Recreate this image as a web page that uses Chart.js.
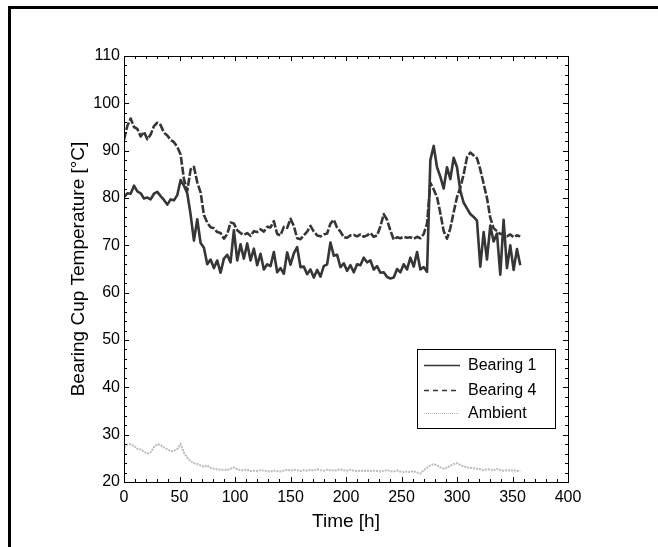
<!DOCTYPE html>
<html>
<head>
<meta charset="utf-8">
<title>Bearing cup temperature</title>
<script src="https://cdn.jsdelivr.net/npm/chart.js@4.4.1/dist/chart.umd.min.js"></script>
<style>
  html, body { margin: 0; padding: 0; background: #fff; }
</style>
</head>
<body>
<canvas id="tempChart" width="658" height="547"></canvas>
<script>
// logged hours since start (3 h sampling)
const hours = [
  0, 3, 6, 9, 12, 15, 18, 21, 24, 27, 30, 33, 36, 39, 42, 45, 48, 51, 54, 57,
  60, 63, 66, 69, 72, 75, 78, 81, 84, 87, 90, 93, 96, 99, 102, 105, 108, 111, 114, 117,
  120, 123, 126, 129, 132, 135, 138, 141, 144, 147, 150, 153, 156, 159, 162, 165, 168, 171, 174, 177,
  180, 183, 186, 189, 192, 195, 198, 201, 204, 207, 210, 213, 216, 219, 222, 225, 228, 231, 234, 237,
  240, 243, 246, 249, 252, 255, 258, 261, 264, 267, 270, 273, 276, 279, 282, 285, 288, 291, 294, 297,
  300, 303, 306, 309, 312, 315, 318, 321, 324, 327, 330, 333, 336, 339, 342, 345, 348, 351, 354, 357
];

const bearing1 = [
  80.2, 81.0, 80.9, 82.6, 81.4, 81.0, 79.9, 80.1, 79.7, 80.9, 81.3, 80.4, 79.6, 78.6, 79.7, 79.5, 80.6, 83.8, 82.6, 81.0,
  76.5, 71.0, 75.5, 70.5, 69.5, 66.0, 67.0, 65.2, 66.8, 64.2, 67.2, 68.0, 66.4, 73.2, 66.8, 70.2, 67.2, 70.4, 66.8, 69.3,
  65.8, 68.2, 64.9, 66.0, 65.6, 68.6, 64.3, 65.2, 64.0, 68.5, 65.9, 68.3, 69.6, 65.4, 65.5, 63.9, 64.9, 63.2, 64.8, 63.4,
  65.6, 66.0, 70.6, 67.8, 68.0, 65.4, 66.2, 64.6, 65.8, 64.3, 66.0, 65.8, 67.4, 66.4, 66.8, 64.9, 65.6, 64.2, 64.3, 63.3,
  63.0, 63.2, 65.0, 64.3, 66.0, 64.9, 67.4, 65.5, 68.6, 64.9, 65.4, 64.4, 88.0, 91.0, 86.5, 84.5, 82.0, 86.5, 84.0, 88.5,
  86.5, 81.5, 79.0, 77.8, 76.6, 76.0, 75.2, 65.5, 72.8, 67.0, 74.2, 70.8, 72.5, 63.8, 75.4, 65.2, 70.0, 64.8, 69.2, 65.8
];

const bearing4 = [
  92.3, 95.2, 96.8, 95.0, 94.6, 93.0, 94.0, 92.4, 93.4, 95.2, 95.9, 95.4, 93.8, 93.2, 92.3, 91.8, 90.8, 89.2, 84.0, 81.5,
  86.0, 86.6, 83.3, 81.2, 76.4, 74.8, 73.8, 73.6, 72.8, 72.6, 71.4, 72.4, 74.8, 74.6, 73.2, 72.6, 72.2, 72.6, 72.0, 73.0,
  72.8, 73.4, 72.9, 73.9, 73.8, 75.1, 72.4, 72.1, 73.9, 73.7, 75.6, 74.1, 71.5, 71.3, 72.1, 72.9, 74.1, 72.9, 72.1, 71.9,
  72.3, 72.5, 74.6, 75.4, 73.7, 72.9, 71.7, 71.6, 72.1, 72.2, 71.9, 72.3, 71.8, 72.1, 72.6, 71.8, 72.1, 74.0, 76.6, 75.4,
  73.1, 71.2, 71.7, 71.5, 71.8, 71.6, 71.7, 71.4, 71.8, 71.5, 72.4, 74.6, 83.2, 81.8, 80.2, 76.8, 73.0, 71.4, 73.6, 77.0,
  80.2, 82.2, 85.0, 88.6, 89.6, 89.0, 88.4, 86.0, 83.0, 80.0, 75.8, 73.6, 73.0, 72.4, 72.5, 71.9, 72.3, 71.7, 72.1, 71.9
];

const ambient = [
  27.3, 27.9, 28.0, 27.6, 27.0, 26.9, 26.4, 26.0, 26.3, 27.4, 28.0, 27.8, 27.3, 26.9, 26.5, 26.6, 27.0, 28.0, 26.2, 25.1,
  24.4, 24.0, 23.8, 23.5, 23.2, 23.5, 23.0, 22.8, 22.7, 22.6, 22.6, 22.5, 22.8, 23.1, 22.7, 22.5, 22.5, 22.6, 22.3, 22.4,
  22.3, 22.5, 22.4, 22.3, 22.2, 22.4, 22.3, 22.2, 22.4, 22.6, 22.4, 22.6, 22.5, 22.3, 22.5, 22.4, 22.6, 22.4, 22.7, 22.5,
  22.4, 22.6, 22.5, 22.4, 22.5, 22.7, 22.5, 22.4, 22.6, 22.4, 22.3, 22.4, 22.3, 22.4, 22.3, 22.4, 22.3, 22.2, 22.4, 22.5,
  22.3, 22.2, 22.4, 22.2, 22.1, 22.2, 22.1, 22.3, 22.0, 21.8, 22.5, 23.0, 23.5, 23.8, 23.5, 23.1, 22.8, 23.0, 23.4, 23.8,
  24.0, 23.6, 23.3, 23.1, 23.0, 22.9, 22.8, 22.7, 22.5, 22.7, 22.6, 22.5, 22.8, 22.5, 22.4, 22.5, 22.4, 22.5, 22.3, 22.4
];

const FONT = "'Liberation Sans', Arial, sans-serif";
const LINE_DARK = '#363636';
const LINE_LIGHT = '#bcbcbc';

const toPoints = vals => hours.map((h, i) => ({ x: h, y: vals[i] }));

// white page, heavy frame on top and left, inward tick marks on all four sides
const frameAndTicks = {
  id: 'frameAndTicks',
  beforeDraw(chart) {
    const ctx = chart.ctx;
    ctx.save();
    ctx.fillStyle = '#fff';
    ctx.fillRect(0, 0, chart.width, chart.height);
    ctx.fillStyle = '#000';
    ctx.fillRect(8, 6, chart.width - 8, 3);
    ctx.fillRect(8, 6, 3, chart.height - 6);
    ctx.restore();
  },
  afterDatasetsDraw(chart) {
    const { ctx, chartArea: a, scales: { x, y } } = chart;
    ctx.save();
    ctx.strokeStyle = '#000';
    ctx.lineWidth = 1;
    ctx.beginPath();
    for (let v = x.min; v <= x.max; v += 10) {
      const px = Math.round(x.getPixelForValue(v)) + 0.5;
      const len = v % 50 === 0 ? 5 : 3;
      ctx.moveTo(px, a.bottom); ctx.lineTo(px, a.bottom - len);
      ctx.moveTo(px, a.top); ctx.lineTo(px, a.top + len);
    }
    for (let v = y.min; v <= y.max; v += 2) {
      const py = Math.round(y.getPixelForValue(v)) + 0.5;
      const len = v % 10 === 0 ? 5 : 3;
      ctx.moveTo(a.left, py); ctx.lineTo(a.left + len, py);
      ctx.moveTo(a.right, py); ctx.lineTo(a.right - len, py);
    }
    ctx.stroke();
    ctx.strokeRect(a.left + 0.5, a.top + 0.5, a.right - a.left, a.bottom - a.top);
    ctx.restore();
  },
  afterDraw(chart) {
    // boxed legend in the lower right of the plot
    const { ctx, chartArea: a } = chart;
    const bx = a.right - 151, by = a.top + 293, bw = 138, bh = 79;
    const rows = [16, 41, 64];
    ctx.save();
    ctx.fillStyle = '#fff';
    ctx.fillRect(bx, by, bw, bh);
    ctx.strokeStyle = '#000';
    ctx.lineWidth = 1;
    ctx.strokeRect(bx + 0.5, by + 0.5, bw, bh);
    ctx.font = '16px ' + FONT;
    ctx.textBaseline = 'middle';
    chart.data.datasets.forEach((ds, i) => {
      const ry = by + rows[i] + 0.5;
      ctx.beginPath();
      ctx.strokeStyle = ds.borderColor;
      ctx.lineWidth = i === 2 ? 1 : 1.3;
      ctx.setLineDash(i === 1 ? [5, 4] : i === 2 ? [1, 1] : []);
      ctx.moveTo(bx + 7, ry);
      ctx.lineTo(bx + 43, ry);
      ctx.stroke();
      ctx.setLineDash([]);
      ctx.fillStyle = '#000';
      ctx.fillText(ds.label, bx + 51, ry);
    });
    ctx.restore();
  }
};

new Chart(document.getElementById('tempChart'), {
  type: 'line',
  data: {
    datasets: [
      { label: 'Bearing 1', data: toPoints(bearing1), borderColor: LINE_DARK, borderWidth: 2.6,
        pointRadius: 0, borderJoinStyle: 'round' },
      { label: 'Bearing 4', data: toPoints(bearing4), borderColor: LINE_DARK, borderWidth: 2.6,
        borderDash: [8, 2], pointRadius: 0, borderJoinStyle: 'round' },
      { label: 'Ambient', data: toPoints(ambient), borderColor: LINE_LIGHT, borderWidth: 2,
        borderDash: [2, 1], pointRadius: 0 }
    ]
  },
  options: {
    responsive: false,
    animation: false,
    layout: { padding: { left: 0, right: 90, top: 56, bottom: 0 } },
    plugins: { legend: { display: false }, tooltip: { enabled: false } },
    scales: {
      x: {
        type: 'linear', min: 0, max: 400,
        afterFit(s) { s.height = 65; },
        grid: { display: false, drawTicks: false },
        border: { display: false },
        ticks: { stepSize: 50, padding: 6, color: '#000', maxRotation: 0, font: { family: FONT, size: 16 } },
        title: { display: true, text: 'Time [h]', color: '#000', font: { family: FONT, size: 19 },
                 padding: { top: 0, bottom: 14 } }
      },
      y: {
        min: 20, max: 110,
        afterFit(s) { s.width = 124; },
        grid: { display: false, drawTicks: false },
        border: { display: false },
        ticks: { stepSize: 10, padding: 4, color: '#000', font: { family: FONT, size: 16 } },
        title: { display: true, text: 'Bearing Cup Temperature [°C]', color: '#000',
                 font: { family: FONT, size: 19 }, padding: { top: 67, bottom: 0 } }
      }
    }
  },
  plugins: [frameAndTicks]
});
</script>
</body>
</html>
